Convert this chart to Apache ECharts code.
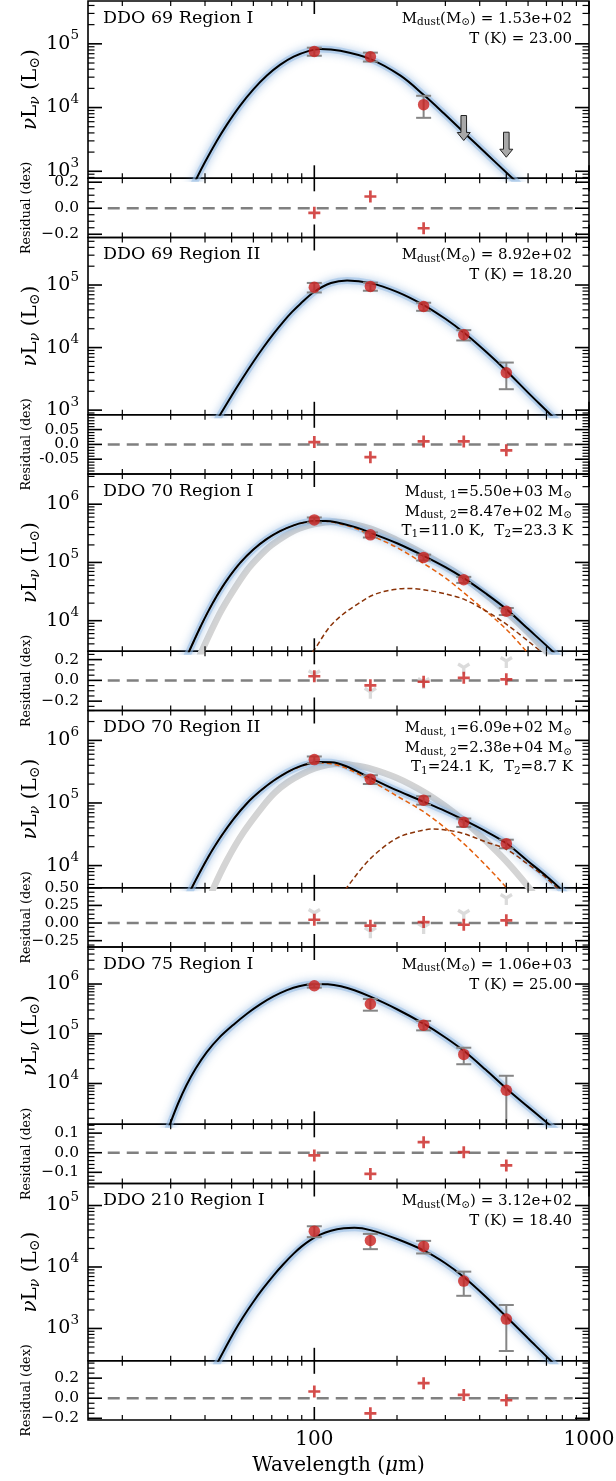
<!DOCTYPE html>
<html>
<head>
<meta charset="utf-8">
<script src="https://cdn.jsdelivr.net/npm/echarts@6.0.0/dist/echarts.min.js"></script>
<style>html,body{margin:0;padding:0;background:#fff;}#chart{width:616px;height:1481px;}</style>
</head>
<body>
<div id="chart"></div>
<script>
// ---------------- DATA ----------------
const bands = [100, 160, 250, 350, 500];
const panelNames = ['DDO 69 Region I', 'DDO 69 Region II', 'DDO 70 Region I', 'DDO 70 Region II', 'DDO 75 Region I', 'DDO 210 Region I'];

// DDO 69 Region I
const obsWave69I = [100, 160, 250];
const obsLum69I = [7.6e4, 6.27e4, 1.11e4];
const obsErr69I = [1.1e4, 1.0e4, 4.2e3];
const limWave69I = [350, 500];
const limLum69I = [7.5e3, 4.1e3];
const modelWave69I = [34, 37.3, 40, 44.2, 48, 53.7, 60, 67.2, 75, 84.1, 95, 105, 124.4, 160, 206, 250, 296, 350, 427, 500, 533, 570];
const modelLum69I = [337, 776, 1396, 3013, 5358, 1.074e4, 1.932e4, 3.177e4, 4.667e4, 6.281e4, 7.674e4, 8.279e4, 7.762e4, 5.754e4, 3.162e4, 1.585e4, 8.128e3, 4.074e3, 1.820e3, 955, 741, 550];
const resid69I = [-0.035, 0.09, -0.154];

// DDO 69 Region II
const obsLum69II = [9.2e4, 9.5e4, 4.54e4, 1.6e4, 3.96e3];
const obsErr69II = [1.6e4, 1.4e4, 6.7e3, 3.0e3, 1.8e3];
const modelWave69II = [42, 45.4, 50, 54.5, 60, 65.3, 71, 77.2, 83, 88.9, 100, 115, 131.6, 160, 200, 250, 300, 350, 420, 500, 600, 726, 790];
const modelLum69II = [466, 841, 1702, 3112, 5929, 1.012e4, 1.656e4, 2.606e4, 3.715e4, 4.989e4, 7.798e4, 1.076e5, 1.183e5, 1.072e5, 7.762e4, 4.786e4, 2.884e4, 1.738e4, 8.710e3, 4.266e3, 1.905e3, 841, 575];
const resid69II = [0.008, -0.043, 0.01, 0.01, -0.02];

// DDO 70 Region I
const obsLum70I = [5.38e5, 2.98e5, 1.22e5, 5.05e4, 1.45e4];
const obsErr70I = [5.4e4, 3.0e4, 1.4e4, 6.0e3, 2.0e3];
const modelWave70I = [33, 35.1, 38.4, 41, 44.2, 48, 53.7, 60, 67.2, 75, 84.1, 92, 100, 110, 120, 140, 160, 200, 250, 300, 350, 420, 500, 600, 737, 800];
const modelLum70I = [1585, 3048, 7621, 1.416e4, 2.679e4, 4.932e4, 9.795e4, 1.667e5, 2.535e5, 3.451e5, 4.335e5, 4.875e5, 5.129e5, 5.152e5, 4.898e5, 4.074e5, 3.236e5, 2.138e5, 1.30e5, 8.32e4, 5.37e4, 2.95e4, 1.58e4, 7244, 2979, 1995];
const warmWave70I = [33, 35.1, 38.4, 41, 44.2, 48, 53.7, 60, 67.2, 75, 84.1, 92, 100, 110, 120, 140, 160, 200, 250, 300, 350, 420, 500, 600, 650, 700];
const warmLum70I = [1585, 3048, 7621, 1.416e4, 2.679e4, 4.932e4, 9.795e4, 1.667e5, 2.535e5, 3.451e5, 4.335e5, 4.86e5, 5.10e5, 5.09e5, 4.80e5, 3.90e5, 2.95e5, 1.80e5, 9.6e4, 5.44e4, 3.03e4, 1.47e4, 7.1e3, 2.77e3, 1.8e3, 1.4e3];
const coldWave70I = [95, 100, 117.6, 155.7, 179, 218, 260, 300, 350, 420, 500, 600, 668, 720];
const coldLum70I = [2188, 3162, 9333, 2.45e4, 3.16e4, 3.58e4, 3.31e4, 2.88e4, 2.34e4, 1.48e4, 8.71e3, 4.47e3, 2.95e3, 2.14e3];
const singleWave70I = [36, 38.9, 45, 50, 56.7, 63, 70, 85, 100, 120, 160, 200, 250, 300, 350, 420, 500, 600, 697, 760];
const singleLum70I = [1259, 2979, 1.26e4, 2.95e4, 7.19e4, 1.26e5, 2.0e5, 3.55e5, 4.57e5, 5.01e5, 3.80e5, 2.40e5, 1.41e5, 8.71e4, 5.50e4, 2.82e4, 1.41e4, 6.31e3, 2.98e3, 1.91e3];
const resid70I = [0.04, -0.048, -0.013, 0.025, 0.01];
const residSingle70I = [0.05, -0.118, -0.025, 0.114, 0.177];

// DDO 70 Region II
const obsLum70II = [4.93e5, 2.39e5, 1.11e5, 4.9e4, 2.24e4];
const obsErr70II = [6.0e4, 3.8e4, 1.7e4, 7.5e3, 3.5e3];
const modelWave70II = [33, 35.8, 41.2, 46, 50.8, 57, 63.5, 71, 79.5, 88, 96.7, 105, 115, 130, 160, 200, 250, 300, 350, 420, 500, 600, 700, 780, 850];
const modelLum70II = [2084, 4416, 1.396e4, 3.020e4, 5.534e4, 1.0e5, 1.549e5, 2.265e5, 3.090e5, 3.802e5, 4.295e5, 4.498e5, 4.467e5, 3.890e5, 2.512e5, 1.585e5, 1.047e5, 7.413e4, 5.370e4, 3.548e4, 2.270e4, 1.175e4, 6.761e3, 4.416e3, 2.884e3];
const warmWave70II = [33, 35.8, 41.2, 46, 50.8, 57, 63.5, 71, 79.5, 88, 96.7, 105, 115, 130, 160, 200, 250, 300, 350, 420, 500, 560];
const warmLum70II = [2084, 4416, 1.396e4, 3.020e4, 5.534e4, 1.0e5, 1.549e5, 2.265e5, 3.090e5, 3.76e5, 4.22e5, 4.37e5, 4.22e5, 3.63e5, 2.29e5, 1.29e5, 7.24e4, 3.98e4, 2.24e4, 1.02e4, 4.47e3, 2.40e3];
const coldWave70II = [125, 133.4, 160, 200, 240, 272, 320, 350, 420, 500, 600, 700, 780, 850];
const coldLum70II = [3162, 4898, 1.29e4, 2.75e4, 3.55e4, 3.84e4, 3.55e4, 3.24e4, 2.40e4, 1.82e4, 1.05e4, 6.31e3, 4.07e3, 2.95e3];
const singleWave70II = [40, 43, 48, 55, 65.3, 72, 80, 90, 100, 112, 125, 140, 160, 200, 250, 300, 350, 420, 500, 605, 660];
const singleLum70II = [1995, 4416, 1.20e4, 3.31e4, 9.12e4, 1.48e5, 2.14e5, 2.88e5, 3.55e5, 4.07e5, 4.22e5, 3.98e5, 3.55e5, 2.51e5, 1.51e5, 8.91e4, 5.25e4, 2.51e4, 1.17e4, 4416, 2630];
const resid70II = [0.047, -0.038, 0.014, -0.024, 0.038];
const residSingle70II = [0.13, -0.13, -0.07, 0.118, 0.34];

// DDO 75 Region I
const obsLum75 = [9.25e5, 3.96e5, 1.49e5, 3.84e4, 7.3e3];
const obsErr75 = [8.0e4, 1.05e5, 3.2e4, 1.4e4, 7.0e3];
const modelWave75 = [28, 29.8, 32, 34.2, 37, 40.6, 45, 50.8, 57, 63.5, 71, 79.5, 88, 100, 112, 125, 140, 160, 200, 250, 300, 350, 420, 500, 600, 700, 800];
const modelLum75 = [596, 1514, 4102, 9120, 2.004e4, 4.285e4, 8.279e4, 1.521e5, 2.553e5, 3.890e5, 5.623e5, 7.534e5, 9.036e5, 1.0e6, 9.886e5, 9.016e5, 7.499e5, 5.559e5, 3.112e5, 1.592e5, 8.414e4, 4.539e4, 1.905e4, 7943, 3388, 1660, 891];
const resid75 = [-0.014, -0.108, 0.054, 0.003, -0.065];

// DDO 210 Region I
const obsLum210 = [3.83e4, 2.7e4, 2.16e4, 5.9e3, 1.42e3];
const obsErr210 = [7.7e3, 7.5e3, 5.0e3, 2.5e3, 9.9e2];
const modelWave210 = [42, 44.8, 50.8, 55, 60, 65, 71.1, 77, 84.1, 90, 96.7, 105, 115, 127.9, 140, 160, 200, 250, 300, 350, 420, 500, 600, 726, 790];
const modelLum210 = [167, 298, 845, 1521, 2723, 4436, 7328, 1.099e4, 1.648e4, 2.163e4, 2.742e4, 3.365e4, 3.890e4, 4.256e4, 4.335e4, 3.981e4, 2.85e4, 1.86e4, 1.15e4, 6.87e3, 3.31e3, 1.55e3, 692, 298, 200];
const resid210 = [0.067, -0.15, 0.15, 0.033, -0.02];

// fit annotations
const fitMass = ['1.53e+02', '8.92e+02', null, null, '1.06e+03', '3.12e+02'];
const fitTemp = ['23.00', '18.20', null, null, '25.00', '18.40'];
const fitTwo70I = {m1: '5.50e+03', m2: '8.47e+02', t1: '11.0', t2: '23.3'};
const fitTwo70II = {m1: '6.09e+02', m2: '2.38e+04', t1: '24.1', t2: '8.7'};

// axes
const waveMin = 15, waveMax = 1000;
const xMajorTicks = [100, 1000];
const xTickLabels = ['100', '1000'];
const xMinorTicks = [20, 30, 40, 50, 60, 70, 80, 90, 200, 300, 400, 500, 600, 700, 800, 900];
const sedMin = [776, 842, 2980, 4416, 1513, 298];
const sedMax = [4.7e5, 5.75e5, 3.3e6, 3.0e6, 5.55e6, 2.28e5];
const resMin = [-0.225, -0.1, -0.29, -0.34, -0.157, -0.217];
const resMax = [0.23, 0.1, 0.28, 0.5, 0.145, 0.373];
const resMajor = [[-0.2, 0, 0.2], [-0.05, 0, 0.05], [-0.2, 0, 0.2], [-0.25, 0, 0.25, 0.5], [-0.1, 0, 0.1], [-0.2, 0, 0.2]];
const resLabels = [['\u22120.2', '0.0', '0.2'], ['-0.05', '0.0', '0.05'], ['\u22120.2', '0.0', '0.2'], ['\u22120.25', '0.00', '0.25', '0.50'], ['\u22120.1', '0.0', '0.1'], ['\u22120.2', '0.0', '0.2']];
const resMinorStep = [0.05, 0.01, 0.05, 0.0625, 0.02, 0.05];
const zeroLineWave = [17.7, 872];

// ---------------- LAYOUT / STYLE ----------------
const FONT = "'DejaVu Serif', serif";
const RED = '#c9211e';
const L = 88, W = 501, TOP0 = 1, PH = 236.5, SH = 177.3, RH = PH - SH;
const PLUS = 'path://M-1.35,-6H1.35V-1.35H6V1.35H1.35V6H-1.35V1.35H-6V-1.35H-1.35Z';
const TRI = 'path://M-0.25,0L0.25,0L0.25,1L-0.25,1Z M0.125,-0.2165L-0.125,0.2165L-0.991,-0.2835L-0.741,-0.7165Z M0.125,0.2165L-0.125,-0.2165L0.741,-0.7165L0.991,-0.2835Z';

const grids = [], xAxes = [], yAxes = [], series = [], graphics = [];

function txt(text, size, align, rich, extra) {
  return Object.assign({text: text, fill: '#000', fontSize: size, fontFamily: FONT, align: align, verticalAlign: 'middle',
    textAlign: align, textVerticalAlign: 'middle', rich: rich}, extra || {});
}

function addGrid(top, height, type, ymin, ymax) {
  const i = grids.length;
  grids.push({left: L, top: top, width: W, height: height, show: true, borderColor: '#000', borderWidth: 1.6, backgroundColor: 'rgba(0,0,0,0)'});
  xAxes.push({type: 'log', logBase: 10, min: waveMin, max: waveMax, gridIndex: i, show: false});
  const ya = {type: type, min: ymin, max: ymax, gridIndex: i, show: false};
  if (type === 'log') ya.logBase = 10;
  yAxes.push(ya);
  return i;
}

function zip(xs, ys) { return xs.map((x, k) => [x, ys[k]]); }

function addLine(g, xs, ys, lineStyle, z) {
  series.push({type: 'line', xAxisIndex: g, yAxisIndex: g, data: zip(xs, ys), smooth: 0.33, symbol: 'none',
    lineStyle: lineStyle, z: z, silent: true, animation: false, clip: true});
}

function addPoints(g, xs, ys, errs) {
  series.push({type: 'custom', xAxisIndex: g, yAxisIndex: g, z: 5, silent: true, animation: false,
    data: xs.map((x, k) => [x, ys[k], errs[k]]), encode: {x: 0, y: 1},
    renderItem: function (params, api) {
      const cs = params.coordSys;
      const bot = cs.y + cs.height;
      const x = api.value(0), y = api.value(1), e = api.value(2);
      const p = api.coord([x, y + e]);
      const lo = y - e;
      let by = lo > 0 ? api.coord([x, lo])[1] : bot;
      by = Math.min(by, bot);
      const st = {stroke: '#858585', lineWidth: 2};
      const ch = [{type: 'line', shape: {x1: p[0], y1: p[1], x2: p[0], y2: by}, style: st}];
      if (p[1] >= cs.y) ch.push({type: 'line', shape: {x1: p[0] - 7.5, y1: p[1], x2: p[0] + 7.5, y2: p[1]}, style: st});
      if (lo > 0 && by < bot) ch.push({type: 'line', shape: {x1: p[0] - 7.5, y1: by, x2: p[0] + 7.5, y2: by}, style: st});
      return {type: 'group', children: ch};
    }});
  series.push({type: 'scatter', xAxisIndex: g, yAxisIndex: g, data: zip(xs, ys), symbol: 'circle', symbolSize: 11.5,
    itemStyle: {color: RED}, z: 6, silent: true, animation: false});
}

function addLimits(g, xs, ys) {
  series.push({type: 'custom', xAxisIndex: g, yAxisIndex: g, z: 6, silent: true, animation: false,
    data: zip(xs, ys), encode: {x: 0, y: 1},
    renderItem: function (params, api) {
      const p = api.coord([api.value(0), api.value(1)]);
      const x = p[0], y = p[1];
      return {type: 'polygon', shape: {points: [[x - 2.8, y], [x + 2.8, y], [x + 2.8, y + 17], [x + 6.5, y + 17], [x, y + 25], [x - 6.5, y + 17], [x - 2.8, y + 17]]},
        style: {fill: '#a8a8a8', stroke: '#222', lineWidth: 1}};
    }});
}

function addFurniture(g, yTicks, yRef, xLabels) {
  const items = [];
  xMajorTicks.forEach((v, k) => items.push({ax: 'x', v: v, major: true, label: xLabels ? xTickLabels[k] : null}));
  xMinorTicks.forEach(v => items.push({ax: 'x', v: v, major: false}));
  yTicks.forEach(t => items.push(Object.assign({ax: 'y'}, t)));
  series.push({type: 'custom', xAxisIndex: g, yAxisIndex: g, silent: true, z: 30, animation: false,
    data: items.map((t, k) => [100, yRef, k]), encode: {x: 0, y: 1},
    renderItem: function (params, api) {
      const t = items[api.value(2)];
      const cs = params.coordSys;
      const bot = cs.y + cs.height, right = cs.x + cs.width;
      const st = {stroke: '#000', lineWidth: t.major ? 1.6 : 1.2};
      const ch = [];
      if (t.ax === 'x') {
        const len = t.major ? 13 : 5;
        const x = api.coord([t.v, yRef])[0];
        ch.push({type: 'line', shape: {x1: x, y1: bot, x2: x, y2: bot - len}, style: st});
        ch.push({type: 'line', shape: {x1: x, y1: cs.y, x2: x, y2: cs.y + len}, style: st});
        if (t.label) ch.push({type: 'text', x: x, y: bot + 19.5, style: txt(t.label, 20, 'center')});
      } else {
        const len = t.major ? 14 : 6.5;
        const y = api.coord([100, t.v])[1];
        ch.push({type: 'line', shape: {x1: cs.x, y1: y, x2: cs.x + len, y2: y}, style: st});
        ch.push({type: 'line', shape: {x1: right, y1: y, x2: right - len, y2: y}, style: st});
        if (t.label) {
          if (t.exp != null) {
            ch.push({type: 'text', x: cs.x - 9, y: y, style: txt('{b|10}{s|' + t.exp + '}', 19, 'right', {
              b: {fontSize: 19, fontFamily: FONT, fill: '#000', lineHeight: 22},
              s: {fontSize: 13.5, fontFamily: FONT, fill: '#000', lineHeight: 14, padding: [0, 0, 16, 0]}})});
          } else {
            ch.push({type: 'text', x: cs.x - 9, y: y, style: txt(t.label, 15.5, 'right')});
          }
        }
      }
      return {type: 'group', children: ch};
    }});
}

function logTicks(mn, mx) {
  const out = [];
  for (let d = Math.floor(Math.log10(mn)); d <= Math.ceil(Math.log10(mx)); d++) {
    for (let k = 1; k <= 9; k++) {
      const v = k * Math.pow(10, d);
      if (v >= mn && v <= mx) out.push(k === 1 ? {v: v, major: true, label: true, exp: d} : {v: v, major: false});
    }
  }
  return out;
}

function resTicks(i) {
  const out = [];
  resMajor[i].forEach((v, k) => out.push({v: v, major: true, label: resLabels[i][k]}));
  const st = resMinorStep[i];
  for (let n = Math.ceil(resMin[i] / st); n * st <= resMax[i] + 1e-9; n++) {
    const v = n * st;
    if (!resMajor[i].some(m => Math.abs(m - v) < 1e-7)) out.push({v: v, major: false});
  }
  return out;
}

// ---------------- PANELS ----------------
const panels = [
  {obsWave: obsWave69I, obsLum: obsLum69I, obsErr: obsErr69I, limWave: limWave69I, limLum: limLum69I,
   model: [modelWave69I, modelLum69I], resid: resid69I, residWave: obsWave69I},
  {obsWave: bands, obsLum: obsLum69II, obsErr: obsErr69II, model: [modelWave69II, modelLum69II], resid: resid69II, residWave: bands},
  {obsWave: bands, obsLum: obsLum70I, obsErr: obsErr70I, model: [modelWave70I, modelLum70I],
   warm: [warmWave70I, warmLum70I], cold: [coldWave70I, coldLum70I], single: [singleWave70I, singleLum70I],
   resid: resid70I, residSingle: residSingle70I, residWave: bands, two: fitTwo70I},
  {obsWave: bands, obsLum: obsLum70II, obsErr: obsErr70II, model: [modelWave70II, modelLum70II],
   warm: [warmWave70II, warmLum70II], cold: [coldWave70II, coldLum70II], single: [singleWave70II, singleLum70II],
   resid: resid70II, residSingle: residSingle70II, residWave: bands, two: fitTwo70II},
  {obsWave: bands, obsLum: obsLum75, obsErr: obsErr75, model: [modelWave75, modelLum75], resid: resid75, residWave: bands},
  {obsWave: bands, obsLum: obsLum210, obsErr: obsErr210, model: [modelWave210, modelLum210], resid: resid210, residWave: bands}
];

const richPanel = {
  n: {fontSize: 15, fontFamily: FONT, fill: '#000', lineHeight: 20},
  sub: {fontSize: 10.5, fontFamily: FONT, fill: '#000', lineHeight: 12, padding: [7, 0, 0, 0]}
};
const richYTitle = {
  i: {fontSize: 20, fontFamily: FONT, fontStyle: 'italic', fill: '#000', lineHeight: 24},
  n: {fontSize: 20, fontFamily: FONT, fill: '#000', lineHeight: 24},
  s: {fontSize: 14, fontFamily: FONT, fill: '#000', lineHeight: 14, padding: [9, 0, 0, 0]},
  si: {fontSize: 14, fontFamily: FONT, fontStyle: 'italic', fill: '#000', lineHeight: 14, padding: [9, 0, 0, 0]}
};

panels.forEach((p, i) => {
  const top = TOP0 + i * PH;
  const gS = addGrid(top, SH, 'log', sedMin[i], sedMax[i]);
  const gR = addGrid(top + SH, RH, 'value', resMin[i], resMax[i]);

  if (p.single) addLine(gS, p.single[0], p.single[1], {color: '#d4d4d4', width: 6.5}, 1);
  addLine(gS, p.model[0], p.model[1], {color: 'rgba(150,188,228,0.55)', width: 7, shadowBlur: 9, shadowColor: 'rgba(70,130,200,0.75)'}, 2);
  if (p.warm) addLine(gS, p.warm[0], p.warm[1], {color: '#e4600e', width: 1.5, type: [5, 3]}, 3);
  if (p.cold) addLine(gS, p.cold[0], p.cold[1], {color: '#8a3308', width: 1.5, type: [5, 3]}, 3);
  addLine(gS, p.model[0], p.model[1], {color: '#000', width: 2}, 4);
  addPoints(gS, p.obsWave, p.obsLum, p.obsErr);
  if (p.limWave) addLimits(gS, p.limWave, p.limLum);

  // residuals
  series.push({type: 'line', xAxisIndex: gR, yAxisIndex: gR, data: zeroLineWave.map(w => [w, 0]), symbol: 'none',
    lineStyle: {color: '#808080', width: 2.5, type: [12, 7]}, z: 4, silent: true, animation: false});
  if (p.residSingle) series.push({type: 'scatter', xAxisIndex: gR, yAxisIndex: gR, data: zip(p.residWave, p.residSingle),
    symbol: TRI, symbolSize: [13, 12], itemStyle: {color: '#d2d2d2'}, z: 5, silent: true, animation: false});
  series.push({type: 'scatter', xAxisIndex: gR, yAxisIndex: gR, data: zip(p.residWave, p.resid),
    symbol: PLUS, symbolSize: 12, itemStyle: {color: RED}, z: 6, silent: true, animation: false});

  addFurniture(gS, logTicks(sedMin[i], sedMax[i]), sedMin[i], false);
  addFurniture(gR, resTicks(i), 0, i === panels.length - 1);

  // texts
  graphics.push({type: 'text', x: L + 15, y: top + 17, z: 100, style: txt(panelNames[i], 17.5, 'left')});
  const rx = L + W - 17;
  if (p.two) {
    graphics.push({type: 'text', x: rx, y: top + 18, z: 100, style: txt('{n|M}{sub|dust, 1}{n|=' + p.two.m1 + ' M}{sub|\u2299}', 15, 'right', richPanel)});
    graphics.push({type: 'text', x: rx, y: top + 38, z: 100, style: txt('{n|M}{sub|dust, 2}{n|=' + p.two.m2 + ' M}{sub|\u2299}', 15, 'right', richPanel)});
    graphics.push({type: 'text', x: rx + 1, y: top + 57, z: 100, style: txt('{n|T}{sub|1}{n|=' + p.two.t1 + ' K,  T}{sub|2}{n|=' + p.two.t2 + ' K}', 15, 'right', richPanel)});
  } else {
    graphics.push({type: 'text', x: rx, y: top + 18, z: 100, style: txt('{n|M}{sub|dust}{n|(M}{sub|\u2299}{n|) = ' + fitMass[i] + '}', 15, 'right', richPanel)});
    graphics.push({type: 'text', x: rx, y: top + 38, z: 100, style: txt('{n|T (K) = ' + fitTemp[i] + '}', 15, 'right', richPanel)});
  }
  // y titles
  graphics.push({type: 'text', x: 31, y: top + SH / 2, rotation: Math.PI / 2, z: 100,
    style: txt('{i|\u03bd}{n|L}{si|\u03bd}{n| (L}{s|\u2299}{n|)}', 20, 'center', richYTitle)});
  graphics.push({type: 'text', x: 27, y: top + SH + RH / 2, rotation: Math.PI / 2, z: 100,
    style: txt('Residual (dex)', 12.7, 'center')});
});

graphics.push({type: 'text', x: L + W / 2, y: 1466, z: 100,
  style: txt('{n|Wavelength (}{i|\u03bc}{n|m)}', 20, 'center', {
    n: {fontSize: 20, fontFamily: FONT, fill: '#000'},
    i: {fontSize: 20, fontFamily: FONT, fontStyle: 'italic', fill: '#000'}})});

const chart = echarts.init(document.getElementById('chart'), null, {renderer: 'canvas', width: 616, height: 1481});
chart.setOption({
  animation: false,
  backgroundColor: '#fff',
  grid: grids,
  xAxis: xAxes,
  yAxis: yAxes,
  series: series,
  graphic: {elements: graphics}
});
</script>
</body>
</html>
